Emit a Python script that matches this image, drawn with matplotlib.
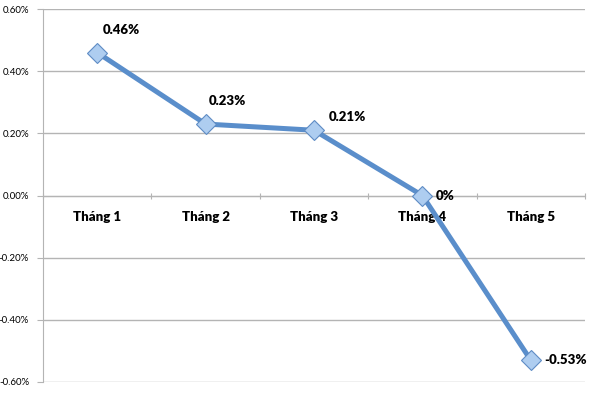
import matplotlib.pyplot as plt
import numpy as np
from matplotlib.ticker import FuncFormatter, FixedLocator

months = ["Tháng 1", "Tháng 2", "Tháng 3", "Tháng 4", "Tháng 5"]
values = [0.46, 0.23, 0.21, 0.0, -0.53]
point_labels = ["0.46%", "0.23%", "0.21%", "0%", "-0.53%"]
yticks = [-0.6, -0.4, -0.2, 0.0, 0.2, 0.4, 0.6]

plt.rcParams['font.family'] = ['Lato', 'DejaVu Sans']

line_color = "#5A8ECB"
grid_color = "#B4B4B4"

fig = plt.figure(figsize=(6, 3.93), dpi=100)
ax = fig.add_axes([0.0717, 0.028, 0.9033, 0.949])

x = np.arange(len(months))
ax.plot(x, values, color=line_color, linewidth=3.6, marker="D", markersize=10.5,
        markerfacecolor="#AECDF0", markeredgecolor="#5E8CC4", markeredgewidth=0.8,
        zorder=3)

# point labels
offsets = [(6, 23), (3, 23), (15, 13), (13, 0), (13, 0)]
for xi, v, lab, (dx, dy) in zip(x, values, point_labels, offsets):
    ax.annotate(lab, (xi, v), xytext=(dx, dy), textcoords="offset pixels",
                ha="left", va="center", fontsize=9.5, fontweight="heavy",
                color="black", zorder=4)

ax.set_xlim(-0.5, len(months) - 0.5)
ax.set_ylim(-0.6, 0.6)
ax.set_yticks(yticks)
ax.yaxis.set_major_formatter(FuncFormatter(lambda v, p: f"{v:.2f}%"))
ax.yaxis.grid(True, color=grid_color, linewidth=1.0)
ax.set_axisbelow(True)
ax.tick_params(axis="y", labelsize=7, length=4, color=grid_color, pad=6)

# category axis crossing at zero
ax.spines["bottom"].set_position(("data", 0))
ax.spines["bottom"].set_color(grid_color)
ax.spines["left"].set_color(grid_color)
ax.spines["top"].set_visible(False)
ax.spines["right"].set_visible(False)
ax.xaxis.set_major_locator(FixedLocator(np.arange(-0.5, len(months), 1.0)))
ax.xaxis.set_major_formatter(FuncFormatter(lambda v, p: ""))
ax.tick_params(axis="x", which="major", direction="inout", length=5, color=grid_color)
ax.xaxis.set_minor_locator(FixedLocator(x))
ax.set_xticklabels(months, minor=True)
ax.tick_params(axis="x", which="minor", length=0, labelsize=9.5, pad=11)
for t in ax.get_xticklabels(minor=True):
    t.set_fontweight("heavy")

fig.savefig("out.png", dpi=100)
